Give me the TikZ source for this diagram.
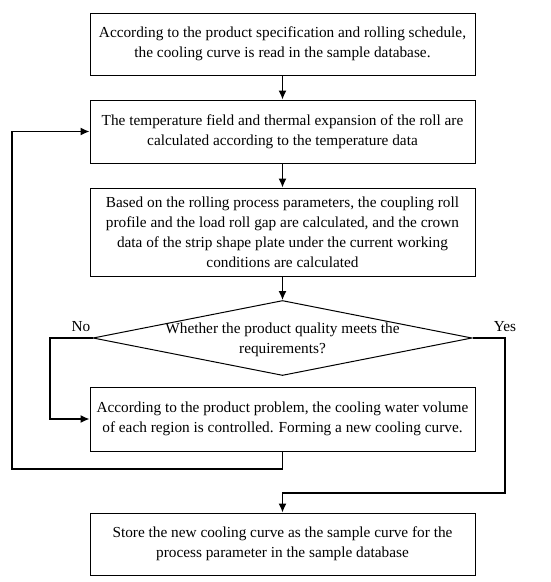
\documentclass[tikz,border=0pt]{standalone}
\usepackage{fontspec}
\setmainfont{Liberation Serif}
\usetikzlibrary{shapes.geometric,arrows.meta}
\begin{document}
\begin{tikzpicture}[x=1pt,y=-1pt,
  box/.style={draw,line width=1pt,minimum width=385pt,inner sep=0pt,align=center,font=\fontsize{15.3}{20}\selectfont},
  arr/.style={line width=1.3pt,-{Latex[length=9pt,width=8pt]}},
  lbl/.style={font=\fontsize{15.3}{20}\selectfont,inner sep=0pt}]
\useasboundingbox (0,0) rectangle (550,582);
\node[box,minimum height=62pt] (b1) at (282.5,44) {According to the product specification and rolling schedule,\\the cooling curve is read in the sample database.};
\node[box,minimum height=63pt] (b2) at (282.5,131.5) {The temperature field and thermal expansion of the roll are\\calculated according to the temperature data};
\node[box,minimum height=88pt] (b3) at (282.5,232) {Based on the rolling process parameters, the coupling roll\\profile and the load roll gap are calculated, and the crown\\data of the strip shape plate under the current working\\conditions are calculated};
\node[diamond,draw,line width=1pt,minimum width=379pt,minimum height=75pt,inner sep=0pt] (dia) at (282.5,338) {};
\node[lbl,align=center] (dt) at (282.5,340) {Whether the product quality meets the\\requirements?};
\node[box,minimum height=64pt] (b4) at (282.5,419) {According to the product problem, the cooling water volume\\of each region is controlled. Forming a new cooling curve.};
\node[box,minimum height=62pt] (b5) at (282.5,544) {Store the new cooling curve as the sample curve for the\\process parameter in the sample database};
\node[lbl] (no) at (81,327) {No};
\node[lbl] (yes) at (505,327) {Yes};
\coordinate (nx) at (50,338);
\coordinate (lx) at (12,469);
\coordinate (rx) at (505,493);
\draw[arr] (b1) -- (b2);
\draw[arr] (b2) -- (b3);
\draw[arr] (b3) -- (dia.north);
\draw[arr] (dia.west) -- (nx) |- (b4.west);
\draw[arr] (b4.south) |- (lx) |- (b2.west);
\draw[arr] (dia.east) -| (rx) -| (b5.north);
\end{tikzpicture}
\end{document}
